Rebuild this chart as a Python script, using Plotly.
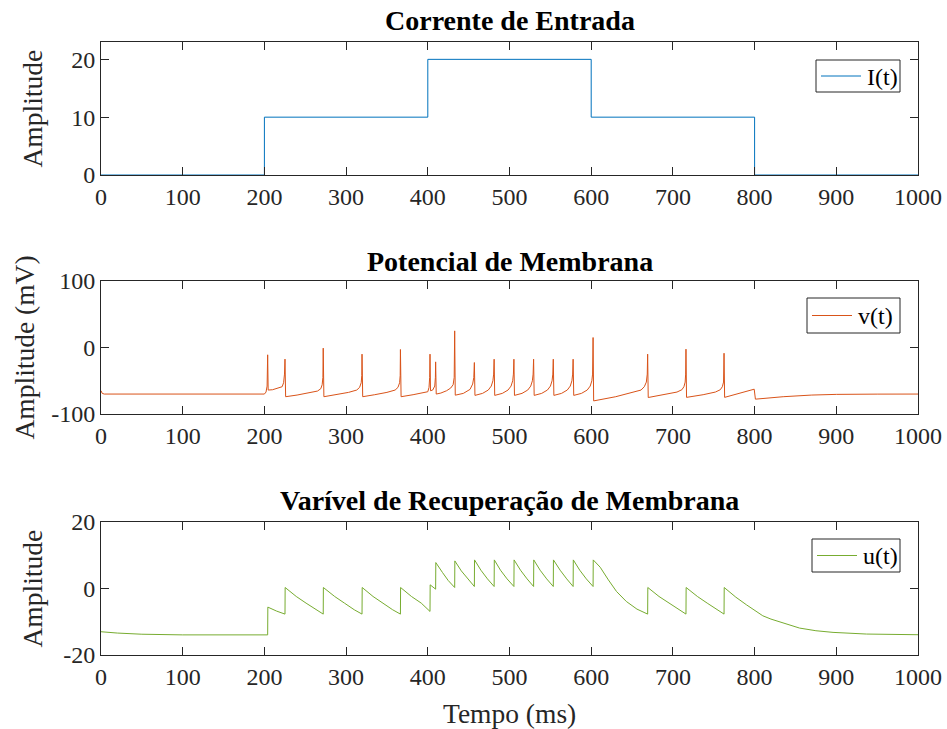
import plotly.graph_objects as go

# Input current steps (ms, amplitude)
t_I = [0, 200, 400, 600, 800, 1000]
I_vals = [0, 10, 20, 10, 0, 0]

# Membrane potential v(t) samples (ms, mV)
t_v = [0, 1.5, 4, 200, 202, 203.3, 204, 204.6, 210, 218, 221.7, 223.5, 224.6, 225.2,
       226, 240, 255, 265, 269, 270.7, 271.6, 272,
       272.8, 288, 303, 313, 316.5, 318.5, 319.2, 319.5,
       320.3, 335, 350, 360, 363.5, 365.5, 366.2, 366.5,
       367.3, 382, 397, 400, 401.5, 402.3, 402.7,
       403.3, 406, 408.5, 409.3, 409.6,
       410.3, 416, 423, 428, 431, 432.3, 432.9,
       433.6, 443.5, 451.7, 454.9, 456.3, 457,
       457.7, 467, 474, 477.7, 479.7, 480.6, 481.2,
       481.9, 491.2, 498.2, 501.9, 503.9, 504.8, 505.4,
       506.1, 515.3, 522.3, 526, 528, 528.9, 529.5,
       530.2, 539.4, 546.4, 550.1, 552.1, 553, 553.6,
       554.3, 563.7, 570.7, 574.4, 576.4, 577.3, 577.9,
       578.6, 588.1, 595.1, 598.8, 600.8, 601.7, 602.3,
       603, 630, 655, 661, 665, 667.5, 668.6, 669.1,
       669.8, 690, 705, 711, 713.5, 715, 715.6, 716,
       716.7, 737, 752, 758, 760.5, 762, 762.3, 762.6,
       763.3, 785, 799.5, 801, 820, 835, 870, 900, 950, 1000]
v_vals = [-65, -69, -70, -70, -67, -58, -11, -64, -63.5, -61, -59, -53, -40, -17.5,
          -74, -71.5, -68.5, -65.5, -62, -56, -45, -1,
          -74, -71, -67.5, -64, -60, -53, -42, -10,
          -74, -71, -67.5, -64, -60, -53, -42, -3,
          -74, -71, -67.5, -66.5, -60, -45, -10,
          -65, -64, -58, -45, -21.6,
          -70, -68.5, -65, -61, -56, -45, 25,
          -71.7, -69, -63, -55, -45, -22.6,
          -72, -69, -64, -58, -50, -40, -17.6,
          -72, -69, -64, -58, -50, -40, -17.6,
          -72, -69, -64, -58, -50, -40, -17.6,
          -72, -69, -64, -58, -50, -40, -17.6,
          -72, -69, -64, -58, -50, -40, -17.6,
          -72, -69, -64, -58, -50, -40, 15,
          -80.3, -74, -66.5, -64, -59, -52, -40, -10,
          -75.2, -71, -67, -63.5, -59, -52, -40, -2.5,
          -75, -71, -67, -63.5, -59, -52, -40, -8.6,
          -75, -68, -62.7, -77.7, -75.5, -74, -71.5, -70.5, -70.1, -70]

# Recovery variable u(t) samples
t_u = [0, 20, 50, 100, 204, 204.2, 215, 225.2,
       225.4, 239, 251, 263, 272,
       272.2, 286, 298, 310, 319.5,
       319.7, 333, 345, 357, 366.5,
       366.7, 380, 392, 402.7,
       402.9, 409.6,
       409.8, 418, 425, 432.9,
       433.1, 441, 449, 457,
       457.2, 465, 473, 481.2,
       481.4, 489, 497, 505.4,
       505.6, 513.5, 521.5, 529.5,
       529.7, 537.5, 545.5, 553.6,
       553.8, 562, 570, 577.9,
       578.1, 586, 594, 602.3,
       602.5, 611, 621, 631, 643, 656, 669.1,
       669.3, 683, 695, 707, 716,
       716.2, 730, 742, 754, 762.6,
       762.8, 777, 790, 800, 810, 820, 835, 855, 875, 896, 937, 1000]
u_vals = [-13.0, -13.4, -13.75, -13.95, -13.95, -5.6, -6.8, -7.7,
          0.3, -2.4, -4.4, -6.4, -7.7,
          0.3, -2.4, -4.4, -6.4, -7.7,
          0.3, -2.4, -4.4, -6.4, -7.7,
          0.3, -2.4, -4.4, -6.9,
          1.1, -0.2,
          7.8, 4.8, 2.4, 0.3,
          8.3, 5.3, 2.8, 0.6,
          8.6, 5.5, 2.9, 0.6,
          8.6, 5.5, 2.9, 0.6,
          8.6, 5.5, 2.9, 0.6,
          8.6, 5.5, 2.9, 0.6,
          8.6, 5.5, 2.9, 0.6,
          8.6, 5.5, 2.9, 0.6,
          8.6, 6.4, 2.6, -0.9, -3.9, -6.2, -7.7,
          0.3, -2.4, -4.4, -6.4, -7.7,
          0.3, -2.4, -4.4, -6.4, -7.7,
          0.3, -2.6, -4.9, -6.6, -8.2, -9.2, -10.4, -11.9, -12.7, -13.2, -13.7, -13.9]

x_ticks = [0, 100, 200, 300, 400, 500, 600, 700, 800, 900, 1000]
y_ticks_I = [0, 10, 20]
y_ticks_v = [-100, 0, 100]
y_ticks_u = [-20, 0, 20]

W, H = 947, 729
SERIF = "Liberation Serif, Times New Roman, serif"
AX = "#262626"
COLORS = ["#0072BD", "#D95319", "#77AC30"]
NAMES = ["I(t)", "v(t)", "u(t)"]


def px_x(p):
    return p / W


def px_y(p):
    return 1 - p / H


fig = go.Figure()
series = [(t_I, I_vals), (t_v, v_vals), (t_u, u_vals)]
for i, ((tx, ty), col, name) in enumerate(zip(series, COLORS, NAMES)):
    sfx = "" if i == 0 else str(i + 1)
    fig.add_trace(go.Scatter(x=tx, y=ty, mode="lines",
                             line_shape="hv" if i == 0 else "linear",
                             line=dict(color=col, width=1), name=name,
                             xaxis="x" + sfx, yaxis="y" + sfx, showlegend=False))

x_dom = [px_x(101), px_x(918)]
panels = [(42, 175), (281, 414), (522, 655)]
y_ranges = [[0, 23], [-100, 100], [-20, 20]]
y_ticks = [y_ticks_I, y_ticks_v, y_ticks_u]

common_axis = dict(showline=True, linecolor=AX, linewidth=1, mirror="ticks",
                   ticks="inside", ticklen=8, tickcolor=AX, showgrid=False,
                   zeroline=False, automargin=False,
                   tickfont=dict(family=SERIF, size=24, color=AX))

layout = dict(width=W, height=H, margin=dict(l=0, r=0, t=0, b=0, autoexpand=False),
              paper_bgcolor="white", plot_bgcolor="white", showlegend=False)
for i, ((top, bot), yr, yt) in enumerate(zip(panels, y_ranges, y_ticks)):
    sfx = "" if i == 0 else str(i + 1)
    layout["xaxis" + sfx] = dict(domain=x_dom, range=[0, 1000], tickvals=x_ticks,
                                 ticktext=[str(v) for v in x_ticks],
                                 anchor="y" + sfx, **common_axis)
    layout["yaxis" + sfx] = dict(domain=[px_y(bot), px_y(top)], range=yr,
                                 tickvals=yt, ticktext=[str(v) for v in yt],
                                 anchor="x" + sfx, **common_axis)
fig.update_layout(**layout)

# Legend boxes: (box left, box top, box bottom) in pixels; right edge at 900
legend_boxes = [(816, 60, 92), (807, 298, 333), (812, 539, 572)]
for (left, top, bot), col, name in zip(legend_boxes, COLORS, NAMES):
    fig.add_shape(type="rect", xref="paper", yref="paper",
                  x0=px_x(left), x1=px_x(900), y0=px_y(bot), y1=px_y(top),
                  line=dict(color=AX, width=1), fillcolor="white", layer="above")
    ym = (top + bot) / 2
    fig.add_shape(type="line", xref="paper", yref="paper",
                  x0=px_x(left + 5), x1=px_x(left + 45), y0=px_y(ym), y1=px_y(ym),
                  line=dict(color=col, width=1), layer="above")
    fig.add_annotation(text=name, x=px_x(left + 49), y=px_y(ym + 0.5),
                       xref="paper", yref="paper", showarrow=False,
                       xanchor="left", yanchor="middle",
                       font=dict(family=SERIF, size=24, color="black"))

titles = [("Corrente de Entrada", 20), ("Potencial de Membrana", 261),
          ("Varível de Recuperação de Membrana", 500)]
for text, yc in titles:
    fig.add_annotation(text="<b>" + text + "</b>", x=px_x(509.5), y=px_y(yc),
                       xref="paper", yref="paper", showarrow=False,
                       xanchor="center", yanchor="middle",
                       font=dict(family=SERIF, size=28, color="black"))

ylabels = [("Amplitude", 32, 108.5), ("Amplitude (mV)", 24, 347.5), ("Amplitude", 32, 588.5)]
for text, xc, yc in ylabels:
    fig.add_annotation(text=text, x=px_x(xc), y=px_y(yc), xref="paper", yref="paper",
                       showarrow=False, textangle=-90, xanchor="center", yanchor="middle",
                       font=dict(family=SERIF, size=27.5, color=AX))

fig.add_annotation(text="Tempo (ms)", x=px_x(509.5), y=px_y(713), xref="paper", yref="paper",
                   showarrow=False, xanchor="center", yanchor="middle",
                   font=dict(family=SERIF, size=27.5, color=AX))

fig.write_html("out.html")
